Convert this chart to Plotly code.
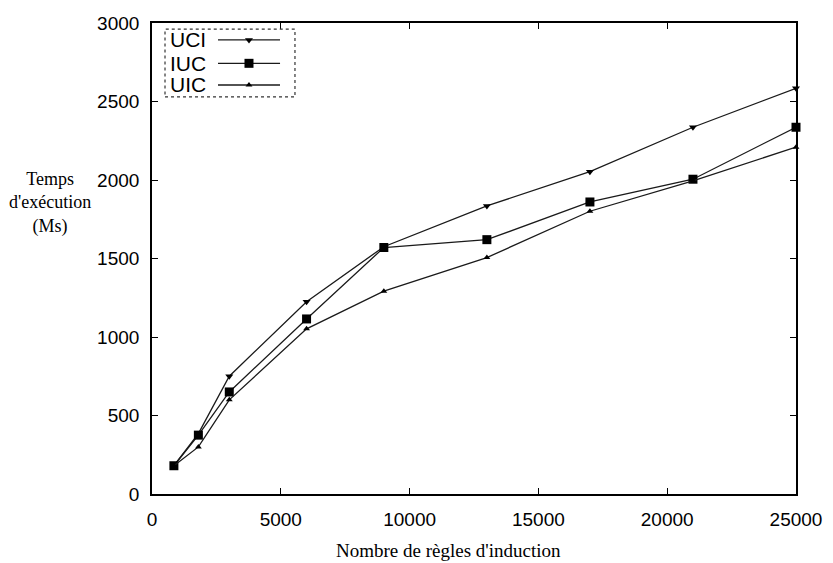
import plotly.graph_objects as go

x_vals = [850, 1800, 3000, 6000, 9000, 13000, 17000, 21000, 25000]
uci = [180, 385, 750, 1225, 1575, 1835, 2053, 2336, 2584]
iuc = [180, 375, 650, 1115, 1570, 1620, 1860, 2005, 2336]
uic = [180, 300, 600, 1052, 1292, 1506, 1801, 1995, 2209]

series = [("UCI", uci, "triangle-down", 7), ("IUC", iuc, "square", 9), ("UIC", uic, "triangle-up", 6)]
x_ticks = [0, 5000, 10000, 15000, 20000, 25000]
x_tick_text = ["0", "5000", "10000", "15000", "20000", "25000"]
y_ticks = [0, 500, 1000, 1500, 2000, 2500, 3000]
y_tick_text = ["0", "500", "1000", "1500", "2000", "2500", "3000"]

LINE = "#1a1a1a"
fig = go.Figure()
for name, vals, sym, sz in series:
    fig.add_trace(go.Scatter(x=x_vals, y=vals, mode="lines+markers", name=name,
                             line=dict(color=LINE, width=1.3),
                             marker=dict(symbol=sym, size=sz, color="black"),
                             showlegend=False, cliponaxis=False))

# manual legend (text left, sample right), drawn on an overlay axis in [0,1]
leg_y = [0.964, 0.9144, 0.8684]
for (name, vals, sym, sz), ly in zip(series, leg_y):
    fig.add_trace(go.Scatter(x=[0.1025, 0.1988], y=[ly, ly], mode="lines", xaxis="x2", yaxis="y2",
                             line=dict(color=LINE, width=1.3), showlegend=False, hoverinfo="skip"))
    fig.add_trace(go.Scatter(x=[0.1506], y=[ly], mode="markers", xaxis="x2", yaxis="y2",
                             marker=dict(symbol=sym, size=sz, color="black"), showlegend=False, hoverinfo="skip"))
    fig.add_annotation(x=0.0248, y=ly, xref="paper", yref="paper", text=name, showarrow=False,
                       xanchor="left", yanchor="middle",
                       font=dict(family="Liberation Sans, Arial", size=21, color="black"))

fig.add_shape(type="rect", xref="paper", yref="paper", x0=0.0202, x1=0.222, y0=0.843, y1=0.987,
              line=dict(color="#333", width=1.2, dash="dot"))

fig.add_annotation(x=-0.158, y=0.618, xref="paper", yref="paper",
                   text="Temps<br>d'exécution<br>(Ms)", showarrow=False, align="center",
                   xanchor="center", yanchor="middle",
                   font=dict(family="Liberation Serif, Times New Roman", size=18, color="black"))
fig.add_annotation(x=0.46, y=-0.119, xref="paper", yref="paper",
                   text="Nombre de règles d'induction", showarrow=False,
                   xanchor="center", yanchor="middle",
                   font=dict(family="Liberation Serif, Times New Roman", size=19, color="black"))

axis_common = dict(showgrid=False, zeroline=False, showline=True, linecolor="black", linewidth=1.6,
                   mirror="ticks", ticks="inside", ticklen=6, tickcolor="black", tickwidth=1,
                   tickfont=dict(family="Liberation Sans, Arial", size=19, color="black"))
fig.update_layout(
    width=833, height=563, paper_bgcolor="white", plot_bgcolor="white",
    margin=dict(l=152, r=37, t=23, b=69),
    xaxis=dict(range=[0, 25000], tickvals=x_ticks, ticktext=x_tick_text, ticklabelstandoff=7, **axis_common),
    yaxis=dict(range=[0, 3000], tickvals=y_ticks, ticktext=y_tick_text, ticklabelstandoff=7, **axis_common),
    xaxis2=dict(range=[0, 1], overlaying="x", visible=False, domain=[0, 1]),
    yaxis2=dict(range=[0, 1], overlaying="y", visible=False),
)
fig.write_html("out.html")
